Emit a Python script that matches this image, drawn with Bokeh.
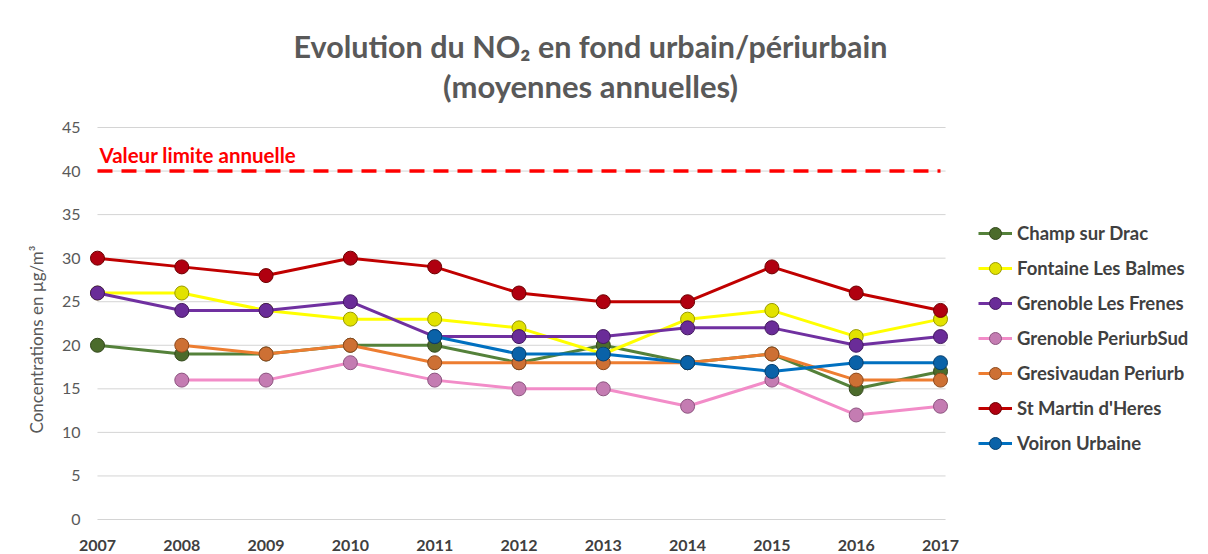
from bokeh.plotting import figure
from bokeh.models import Label, Legend, LegendItem, Range1d, Title
from bokeh.embed import file_html
from bokeh.resources import INLINE

# ---------------- data ----------------
years = [2007, 2008, 2009, 2010, 2011, 2012, 2013, 2014, 2015, 2016, 2017]
champ_sur_drac = [20, 19, 19, 20, 20, 18, 20, 18, 19, 15, 17]
fontaine_les_balmes = [26, 26, 24, 23, 23, 22, 19, 23, 24, 21, 23]
grenoble_les_frenes = [26, 24, 24, 25, 21, 21, 21, 22, 22, 20, 21]
grenoble_periurbsud = [None, 16, 16, 18, 16, 15, 15, 13, 16, 12, 13]
gresivaudan_periurb = [None, 20, 19, 20, 18, 18, 18, 18, 19, 16, 16]
st_martin_dheres = [30, 29, 28, 30, 29, 26, 25, 25, 29, 26, 24]
voiron_urbaine = [None, None, None, None, 21, 19, 19, 18, 17, 18, 18]
y_ticks = [0, 5, 10, 15, 20, 25, 30, 35, 40, 45]
valeur_limite = 40

series_names = ["Champ sur Drac", "Fontaine Les Balmes", "Grenoble Les Frenes",
                "Grenoble PeriurbSud", "Gresivaudan Periurb", "St Martin d'Heres",
                "Voiron Urbaine"]
series_values = [champ_sur_drac, fontaine_les_balmes, grenoble_les_frenes,
                 grenoble_periurbsud, gresivaudan_periurb, st_martin_dheres,
                 voiron_urbaine]

# styles: (line colour, marker fill, marker outline)
styles = [
    ("#54813A", "#4B6B2B", "#33481C"),
    ("#FFFF00", "#E2E200", "#9A9A00"),
    ("#7030A0", "#6A2C98", "#43195F"),
    ("#F28CC8", "#C47CB2", "#8D5580"),
    ("#ED7D31", "#CD7034", "#8D4A1E"),
    ("#C00000", "#B00010", "#6E0000"),
    ("#0070C0", "#0A62A8", "#053F6E"),
]

FONT = "Lato"
X_START, X_END = 2006.846, 2020.179
Y_START, Y_END = -0.23, 59.58
GRID_X_END = 2017.06

p = figure(width=1208, height=554, output_backend="svg", toolbar_location=None,
           x_range=Range1d(X_START, X_END), y_range=Range1d(Y_START, Y_END),
           min_border_left=84, min_border_right=0, min_border_top=0,
           min_border_bottom=33)
p.outline_line_color = None
p.background_fill_color = "white"
p.border_fill_color = "white"
p.grid.visible = False

# axes
p.xaxis.ticker = years
p.yaxis.ticker = y_ticks
for ax in (p.xaxis, p.yaxis):
    ax.axis_line_color = None
    ax.major_tick_line_color = None
    ax.minor_tick_line_color = None
    ax.major_tick_out = 0
    ax.major_tick_in = 0
    ax.minor_tick_out = 0
    ax.minor_tick_in = 0
p.xaxis.major_label_text_font = FONT
p.xaxis.major_label_text_font_size = "16px"
p.xaxis.major_label_text_font_style = "bold"
p.xaxis.major_label_text_color = "#404040"
p.xaxis.major_label_standoff = 18
p.yaxis.major_label_text_font = FONT
p.yaxis.major_label_text_font_size = "16px"
p.yaxis.major_label_text_color = "#595959"
p.yaxis.major_label_standoff = 4

# y axis title, placed along the left side
p.add_layout(Title(text="Concentrations en µg/m³", align="left", offset=88,
                   text_font=FONT, text_font_size="17px", text_font_style="normal",
                   text_color="#595959", standoff=24), "left")

# horizontal gridlines spanning 2007 -> right edge of plot area
p.segment(x0=[years[0]] * len(y_ticks), x1=[GRID_X_END] * len(y_ticks),
          y0=y_ticks, y1=y_ticks, line_color="#D4D4D4", line_width=1)

# limit line
p.line(x=[years[0], years[-1]], y=[valeur_limite, valeur_limite],
       line_color="#FF0000", line_width=3.5, line_dash="15 9")
p.add_layout(Label(x=years[0], y=valeur_limite + 1.8, x_offset=2,
                   text="Valeur limite annuelle", text_font=FONT,
                   text_font_style="bold", text_font_size="20.5px",
                   text_color="#FF0000", text_baseline="middle"))

items = []
for name, vals, (lc, fc, oc) in zip(series_names, series_values, styles):
    xs = [x for x, v in zip(years, vals) if v is not None]
    ys = [v for v in vals if v is not None]
    r_line = p.line(xs, ys, line_color=lc, line_width=3)
    r_pts = p.scatter(xs, ys, size=14, fill_color=fc, line_color=oc, line_width=1)
    items.append(LegendItem(label=name, renderers=[r_line, r_pts]))

legend = Legend(items=items, location=(894, 63), orientation="vertical",
                glyph_width=34, glyph_height=30, label_height=30, spacing=5,
                padding=0, margin=0, label_standoff=5,
                label_text_font=FONT, label_text_font_size="18.5px",
                label_text_font_style="bold", label_text_color="#404040",
                border_line_color=None, background_fill_alpha=0)
p.add_layout(legend)

# title (two lines)
title_x = 2012.848
p.add_layout(Label(x=title_x, y=54.3, text="Evolution du NO₂ en fond urbain/périurbain",
                   text_align="center", text_baseline="middle", text_font=FONT,
                   text_font_style="bold", text_font_size="30.5px", text_color="#595959"))
p.add_layout(Label(x=title_x, y=49.71, text="(moyennes annuelles)",
                   text_align="center", text_baseline="middle", text_font=FONT,
                   text_font_style="bold", text_font_size="31px", text_color="#595959"))

open("out.html", "w").write(file_html(p, INLINE))
